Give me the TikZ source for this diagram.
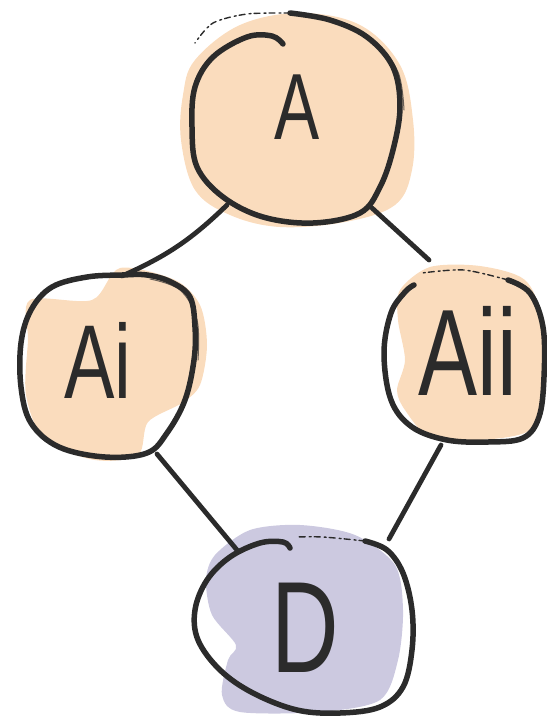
\documentclass[tikz,border=0pt]{standalone}
\usepackage{fontspec}
\usetikzlibrary{shapes.geometric,calc}
\newfontfamily\handfont{Liberation Sans}[FakeStretch=0.72]
\definecolor{ink}{HTML}{2B2B2B}
\definecolor{peach}{HTML}{FADCBD}
\definecolor{lav}{HTML}{CCC9E0}
\begin{document}
\begin{tikzpicture}[x=1pt,y=-1pt,
  geo/.style={ellipse,draw=none,inner sep=0pt},
  sketch/.style={draw=ink,line width=5.5pt,line cap=round,line join=round},
  rough/.style={draw=ink,line width=1pt,line cap=round,opacity=0.7},
  faint/.style={draw=ink,line width=1.4pt,line cap=round,dash pattern=on 6pt off 3pt on 2pt off 4pt},
  edgeline/.style={draw=ink,line width=4.8pt,line cap=round},
  lbl/.style={text=ink,inner sep=0pt}]
\useasboundingbox (0,0) rectangle (547,716);
% colour blobs
\fill[peach] plot[smooth cycle,tension=0.6] coordinates {(195,60)(240,25)(300,13)(360,25)(400,65)(413,120)(412,170)(395,205)(345,222)(280,227)(230,215)(195,190)(181,140)(183,95)};
\fill[peach] plot[smooth cycle,tension=0.5] coordinates {(30,300)(92,300)(120,268)(175,280)(200,305)(207,345)(200,385)(182,403)(148,422)(138,455)(95,460)(45,440)(26,395)(28,340)};
\fill[peach] plot[smooth cycle,tension=0.5] coordinates {(400,290)(430,267)(480,266)(525,280)(542,320)(542,390)(530,430)(480,440)(430,437)(405,410)(397,390)(405,360)(398,320)};
\fill[lav] plot[smooth cycle,tension=0.5] coordinates {(215,555)(250,530)(300,525)(355,535)(395,565)(403,610)(398,660)(380,700)(320,712)(240,712)(222,695)(228,660)(236,645)(212,615)(206,580)};
% geometry nodes
\node[geo,minimum width=210pt,minimum height=210pt] (A) at (296,118) {};
\node[geo,minimum width=176pt,minimum height=182pt] (Ai) at (108,366) {};
\node[geo,minimum width=160pt,minimum height=172pt] (Aii) at (464,356) {};
\node[geo,minimum width=217pt,minimum height=176pt] (D) at (303,625) {};
% outlines
\draw[sketch] plot[smooth,tension=0.6] coordinates {(283,44)(272,36)(247,37)(213,57)(195,87)(192,127)(197,167)(223,197)(263,217)(313,223)(360,213)(380,187)(393,150)(400,107)(393,67)(367,37)(330,20)(290,13)};
\draw[rough] plot[smooth,tension=0.6] coordinates {(345,26)(375,42)(398,72)(404,110)};
\draw[faint] plot[smooth] coordinates {(290,13)(247,14)(213,23)(195,43)};
\draw[sketch] plot[smooth cycle,tension=0.6] coordinates {(87,277)(52,287)(31,310)(21,343)(21,387)(31,423)(59,447)(105,457)(147,453)(167,433)(185,400)(194,360)(195,327)(190,297)(171,282)(147,275)(122,275)};
\draw[rough] plot[smooth,tension=0.6] coordinates {(150,279)(180,290)(197,320)(198,360)};
\draw[sketch] plot[smooth,tension=0.6] coordinates {(414,285)(405,292)(391,313)(384,353)(391,400)(412,427)(447,440)(488,442)(523,438)(539,417)(544,377)(543,327)(530,293)(508,280)};
\draw[faint] plot[smooth] coordinates {(508,280)(464,270)(422,273)};
\draw[sketch] plot[smooth,tension=0.6] coordinates {(290,548)(283,542)(260,543)(230,557)(207,580)(195,610)(198,640)(220,670)(253,693)(297,710)(340,713)(380,707)(403,687)(412,650)(412,610)(403,573)(387,550)(365,541)};
\draw[faint] plot[smooth] coordinates {(365,541)(323,537)(297,537)};
% connectors
\draw[edgeline] ($(A.center)+(-69,87)$) to[bend left=10] ($(Ai.center)+(14,-90)$);
\draw[edgeline] ($(A.center)+(76,90)$) -- ($(Aii.center)+(-35,-96)$);
\draw[edgeline] ($(Ai.center)+(49,88)$) -- ($(D.center)+(-66,-75)$);
\draw[edgeline] ($(Aii.center)+(-23,89)$) -- ($(D.center)+(86,-86)$);
% labels
\node[lbl,font={\handfont\fontsize{94pt}{94pt}\selectfont}] (tA) at (297,107) {A};
\node[lbl,font={\handfont\fontsize{105pt}{105pt}\selectfont}] (tAi) at (98,360) {Ai};
\node[lbl,font={\handfont\fontsize{123pt}{123pt}\selectfont}] (tAii) at (468,351) {Aii};
\node[lbl,font={\handfont\fontsize{130pt}{130pt}\selectfont}] (tD) at (305,628) {D};
\end{tikzpicture}
\end{document}
